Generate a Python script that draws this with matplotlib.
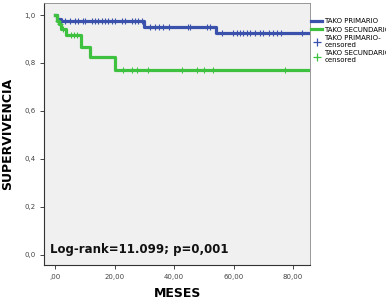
import numpy as np
import matplotlib.pyplot as plt
from matplotlib.lines import Line2D

# Kaplan-Meier step data
prim_t = [0.0, 0.8, 2.0, 30.0, 54.0, 85.7]
prim_s = [1.0, 0.985, 0.977, 0.952, 0.926, 0.926]
prim_cens_t = [3.4, 5.0, 6.7, 7.7, 9.4, 10.0, 12.4, 13.4, 14.5, 15.7, 16.8, 17.8, 19.0,
               20.2, 22.5, 23.5, 25.9, 26.9, 28.0, 29.2, 31.9, 33.6, 35.0, 36.3, 38.3,
               44.7, 45.4, 51.0, 52.1, 56.1, 59.8, 61.1, 62.2, 63.2, 64.5, 65.5, 67.2,
               68.9, 69.9, 71.9, 73.3, 74.6, 75.9, 83.0]

sec_t = [0.0, 0.6, 1.2, 2.0, 3.6, 8.6, 11.8, 20.2, 85.7]
sec_s = [1.0, 0.977, 0.962, 0.943, 0.915, 0.868, 0.824, 0.771, 0.771]
sec_cens_t = [0.9, 1.5, 2.6, 5.3, 6.2, 7.2, 23.0, 26.0, 27.5, 31.4, 42.6, 47.6, 50.0, 53.1, 77.3]

blue = '#3b52ad'
green = '#3fc140'


def surv_at(times, surv, t):
    idx = np.searchsorted(times, t, side='right') - 1
    return np.array(surv)[idx]


fig = plt.figure(figsize=(3.86, 3.04), dpi=100)
ax = fig.add_axes([0.115, 0.128, 0.688, 0.862])
ax.set_facecolor('#f0f0f0')

ax.step(prim_t, prim_s, where='post', color=blue, lw=2.3, zorder=3)
ax.step(sec_t, sec_s, where='post', color=green, lw=2.3, zorder=3)
ax.plot(prim_cens_t, surv_at(prim_t, prim_s, prim_cens_t), ls='none', marker='+',
        ms=5, mew=0.8, color=blue, zorder=4)
ax.plot(sec_cens_t, surv_at(sec_t, sec_s, sec_cens_t), ls='none', marker='+',
        ms=5, mew=0.8, color=green, zorder=4)

ax.set_xlim(-3.6, 85.7)
ax.set_ylim(-0.043, 1.05)

xt = [0, 20, 40, 60, 80]
ax.set_xticks(xt)
ax.set_xticklabels([',00', '20,00', '40,00', '60,00', '80,00'])
yt = [0.0, 0.2, 0.4, 0.6, 0.8, 1.0]
ax.set_yticks(yt)
ax.set_yticklabels(['0,0', '0,2', '0,4', '0,6', '0,8', '1,0'])
ax.tick_params(labelsize=5, colors='#444444', length=3, width=0.7)

for s in ['left', 'bottom']:
    ax.spines[s].set_color('#333333')
    ax.spines[s].set_linewidth(0.8)
for s in ['top', 'right']:
    ax.spines[s].set_color('#888888')
    ax.spines[s].set_linewidth(0.6)

ax.set_xlabel('MESES', fontsize=9, fontweight='bold', labelpad=5)
ax.set_ylabel('SUPERVIVENCIA', fontsize=9, fontweight='bold', labelpad=7)

ax.text(0.02, 0.045, 'Log-rank=11.099; p=0,001', transform=ax.transAxes,
        fontsize=8.5, fontweight='bold', color='#111111')

handles = [Line2D([], [], color=blue, lw=2.3),
           Line2D([], [], color=green, lw=2.3),
           Line2D([], [], color=blue, ls='none', marker='+', ms=6, mew=0.9),
           Line2D([], [], color=green, ls='none', marker='+', ms=6, mew=0.9)]
labels = ['TAKO PRIMARIO', 'TAKO SECUNDARIO', 'TAKO PRIMARIO-\ncensored',
          'TAKO SECUNDARIO-\ncensored']
fig.legend(handles, labels, loc='upper left', bbox_to_anchor=(0.803, 0.945),
           frameon=False, fontsize=5, handlelength=1.6, handletextpad=0.3,
           labelspacing=0.35, borderaxespad=0, borderpad=0.2)

fig.savefig('out.png', dpi=100)
